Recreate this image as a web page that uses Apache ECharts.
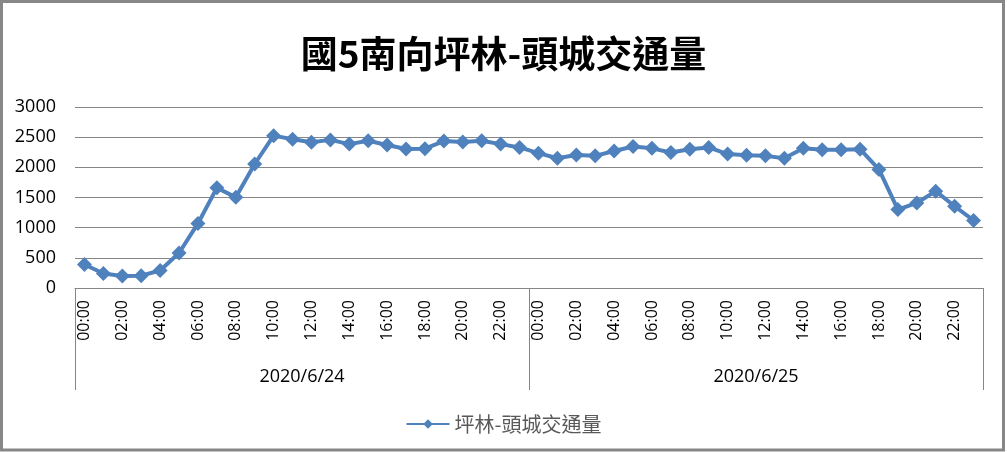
<!DOCTYPE html>
<html>
<head>
<meta charset="utf-8">
<script src="https://cdn.jsdelivr.net/npm/echarts@6/dist/echarts.min.js"></script>
<style>
html, body { margin: 0; padding: 0; background: #fff; }
#main { width: 1007px; height: 452px; }
</style>
</head>
<body>
<div id="main"></div>
<script>
var hours = ['00:00','01:00','02:00','03:00','04:00','05:00','06:00','07:00','08:00','09:00','10:00','11:00',
             '12:00','13:00','14:00','15:00','16:00','17:00','18:00','19:00','20:00','21:00','22:00','23:00'];
var dates = ['2020/6/24', '2020/6/25'];
var day1 = [390, 240, 200, 205, 290, 580, 1070, 1660, 1505, 2055, 2525, 2465,
            2415, 2455, 2385, 2440, 2370, 2305, 2310, 2435, 2420, 2440, 2385, 2330];
var day2 = [2235, 2150, 2205, 2190, 2270, 2345, 2315, 2245, 2300, 2330, 2220, 2200,
            2190, 2150, 2315, 2290, 2290, 2300, 1965, 1300, 1410, 1605, 1355, 1120];
var seriesName = '坪林-頭城交通量';
var titleText = '國5南向坪林-頭城交通量';

var categories = hours.concat(hours);
var values = day1.concat(day2);

var myChart = echarts.init(document.getElementById('main'));
var gray = '#868686';
var option = {
    animation: false,
    backgroundColor: '#fff',
    title: {
        text: titleText,
        left: 'center',
        top: 30,
        textStyle: {
            fontFamily: 'Noto Sans CJK TC',
            fontSize: 37,
            fontWeight: 'bold',
            color: '#000'
        }
    },
    legend: {
        data: [seriesName],
        left: 'center',
        top: 409,
        itemWidth: 43,
        itemHeight: 12,
        itemGap: 5,
        textStyle: {
            fontFamily: 'Noto Sans CJK TC',
            fontSize: 20,
            color: '#595959'
        }
    },
    grid: {
        left: 75,
        right: 24,
        top: 107,
        bottom: 164
    },
    xAxis: [
        {
            type: 'category',
            data: categories,
            position: 'bottom',
            axisLine: { lineStyle: { color: gray, width: 1 } },
            axisTick: { show: false },
            axisLabel: {
                interval: 1,
                rotate: 90,
                margin: 12,
                fontFamily: 'Open Sans',
                fontSize: 16,
                color: '#000'
            }
        },
        {
            type: 'category',
            data: dates,
            position: 'bottom',
            offset: 102,
            axisLine: { show: false },
            axisTick: {
                show: true,
                inside: true,
                length: 102,
                lineStyle: { color: gray, width: 1 }
            },
            axisLabel: {
                inside: true,
                margin: 4,
                fontFamily: 'Open Sans',
                fontSize: 18,
                color: '#000'
            }
        }
    ],
    yAxis: {
        type: 'value',
        min: 0,
        max: 3000,
        interval: 500,
        axisLine: { show: false },
        axisTick: { show: false },
        splitLine: { lineStyle: { color: gray, width: 1 } },
        axisLabel: {
            margin: 19,
            formatter: function (v) { return String(v); },
            fontFamily: 'Open Sans',
            fontSize: 18,
            color: '#000'
        }
    },
    series: [
        {
            name: seriesName,
            type: 'line',
            xAxisIndex: 0,
            data: values,
            symbol: 'diamond',
            symbolSize: 15,
            showAllSymbol: true,
            lineStyle: { color: '#4F81BD', width: 4 },
            itemStyle: { color: '#4F81BD' }
        }
    ],
    graphic: [
        {
            type: 'rect',
            shape: { x: 1.5, y: 1.5, width: 1002, height: 448.5 },
            style: { fill: 'none', stroke: '#878787', lineWidth: 3 },
            silent: true
        }
    ]
};
myChart.setOption(option);
</script>
</body>
</html>
